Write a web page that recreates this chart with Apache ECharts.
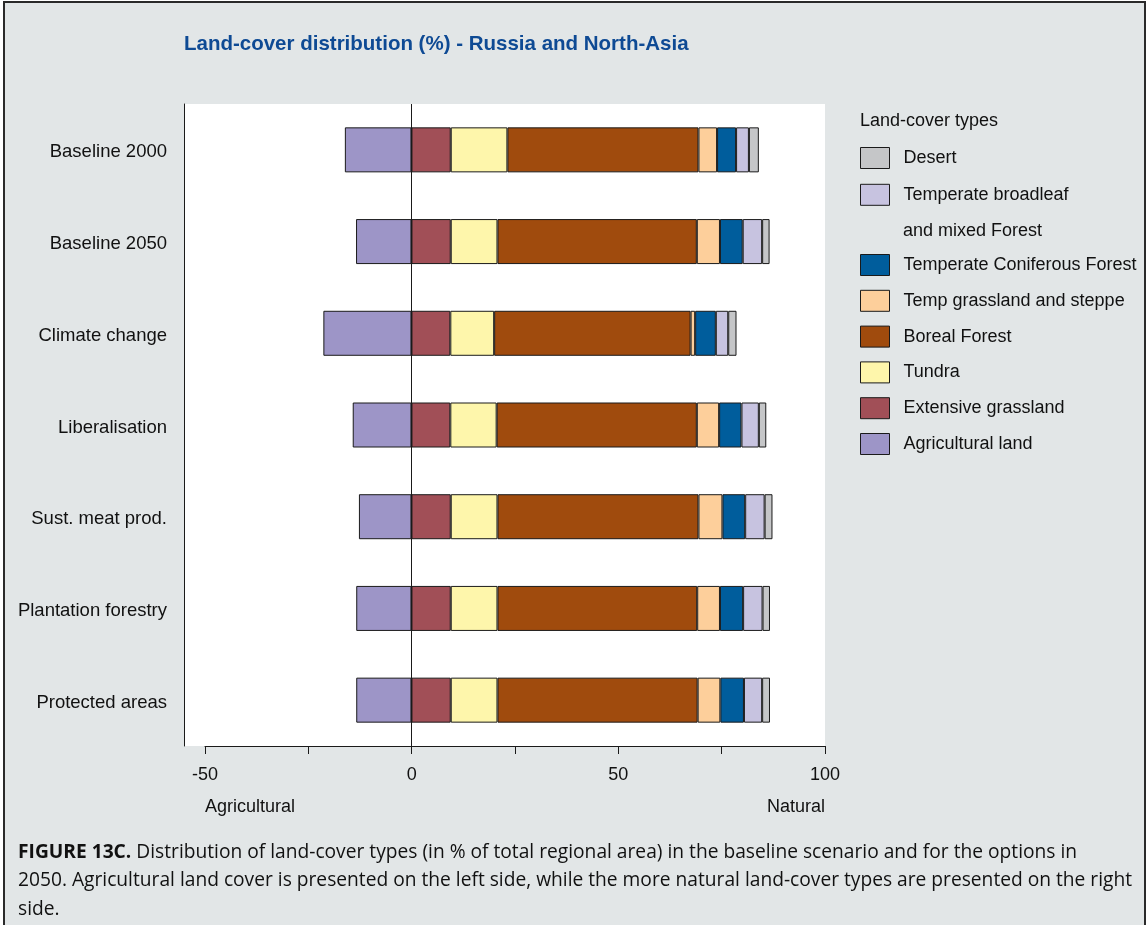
<!DOCTYPE html>
<html>
<head>
<meta charset="utf-8">
<script src="https://cdn.jsdelivr.net/npm/echarts@6/dist/echarts.min.js"></script>
<style>
  html, body { margin: 0; padding: 0; background: #ffffff; }
  #wrap { position: relative; width: 1147px; height: 925px; overflow: hidden; }
  #panel { position: absolute; left: 3px; top: 1px; width: 1139px; height: 940px;
           background: #e2e6e7; border: 2px solid #2a2a2a; }
  #chart { position: absolute; left: 0; top: 0; width: 1147px; height: 925px; }
</style>
</head>
<body>
<div id="wrap">
  <div id="panel"></div>
  <div id="chart"></div>
</div>
<script>
const categories = ['Baseline 2000', 'Baseline 2050', 'Climate change', 'Liberalisation',
                    'Sust. meat prod.', 'Plantation forestry', 'Protected areas'];
const agricultural = [-16.1, -13.4, -21.3, -14.2, -12.7, -13.35, -13.35];
const extensiveGrassland = [9.5, 9.5, 9.4, 9.4, 9.5, 9.5, 9.5];
const tundra = [13.7, 11.3, 10.6, 11.2, 11.3, 11.3, 11.3];
const borealForest = [46.2, 48.2, 47.5, 48.4, 48.6, 48.3, 48.4];
const tempGrassland = [4.5, 5.6, 1.1, 5.4, 5.8, 5.5, 5.5];
const coniferous = [4.6, 5.5, 5.0, 5.4, 5.5, 5.6, 5.7];
const broadleaf = [3.1, 4.7, 3.0, 4.2, 4.7, 4.7, 4.4];
const desert = [2.4, 1.8, 2.0, 1.8, 1.9, 1.8, 1.9];
const xTicks = [-50, -25, 0, 25, 50, 75, 100];

const names = {
  agri: 'Agricultural land', ext: 'Extensive grassland', tun: 'Tundra', bor: 'Boreal Forest',
  tg: 'Temp grassland and steppe', con: 'Temperate Coniferous Forest',
  bl: 'Temperate broadleaf and mixed Forest', des: 'Desert'
};
const colors = {
  agri: '#9d95c7', ext: '#a14f57', tun: '#fef6ab', bor: '#a04b0d',
  tg: '#fdcf9b', con: '#005d9c', bl: '#c7c3e0', des: '#c5c6c8'
};
const seriesDefs = [
  ['agri', agricultural], ['ext', extensiveGrassland], ['tun', tundra], ['bor', borealForest],
  ['tg', tempGrassland], ['con', coniferous], ['bl', broadleaf], ['des', desert]
];

const FONT = "'Liberation Sans', Arial, sans-serif";
const CAPTION = "'Open Sans', Lato, sans-serif";

const series = seriesDefs.map(([k, arr], i) => ({
  name: names[k],
  type: 'bar',
  stack: 'total',
  xAxisIndex: 0, yAxisIndex: 0,
  barWidth: 45,
  data: arr,
  itemStyle: { color: colors[k], borderColor: '#1a1a1a', borderWidth: 1 },
  emphasis: { disabled: true },
  markLine: i === 0 ? {
    silent: true, symbol: 'none', label: { show: false },
    lineStyle: { color: '#1a1a1a', width: 1, type: 'solid' },
    data: [{ xAxis: 0 }]
  } : undefined
}));

const chart = echarts.init(document.getElementById('chart'), null, { renderer: 'canvas' });
const legendCommon = {
  orient: 'vertical', left: 860, padding: 0, itemWidth: 29, itemHeight: 21, itemGap: 14.8,
  icon: 'rect', selectedMode: false,
  itemStyle: { borderColor: '#1a1a1a', borderWidth: 1 },
  textStyle: { fontFamily: FONT, fontSize: 18, lineHeight: 20, color: '#111', padding: [0, 0, 0, 9] },
  formatter: n => n === names.bl ? 'Temperate broadleaf' : n
};
chart.setOption({
  backgroundColor: 'transparent',
  animation: false,
  title: {
    text: 'Land-cover distribution (%) - Russia and North-Asia',
    left: 184, top: 34, padding: 0,
    textStyle: { fontFamily: FONT, fontWeight: 'bold', fontSize: 20.5, color: '#0e4a94' }
  },
  legend: [
    Object.assign({}, legendCommon, { top: 147, data: [names.des, names.bl] }),
    Object.assign({}, legendCommon, { top: 254, itemGap: 13.8, data: [names.con, names.tg, names.bor, names.tun, names.ext, names.agri] })
  ],
  grid: [
    { left: 184, right: 322, top: 104, bottom: 179, show: true, backgroundColor: '#ffffff', borderWidth: 0 },
    { left: 205, right: 322, top: 745, height: 1 }
  ],
  xAxis: [
    { type: 'value', gridIndex: 0, min: -55, max: 100, show: false },
    { type: 'value', gridIndex: 1, min: -50, max: 100, interval: 25, position: 'bottom',
      axisLine: { show: true, onZero: false, lineStyle: { color: '#1a1a1a', width: 1 } },
      axisTick: { show: true, length: 8, lineStyle: { color: '#1a1a1a' } },
      splitLine: { show: false },
      axisLabel: { fontFamily: FONT, fontSize: 18, color: '#111', margin: 20,
                   formatter: v => (v % 50 === 0 ? String(v) : '') }
    }
  ],
  yAxis: [
    { type: 'category', gridIndex: 0, data: categories, inverse: true,
      axisLine: { show: true, onZero: false, lineStyle: { color: '#1a1a1a', width: 1 } },
      axisTick: { show: false },
      axisLabel: { fontFamily: FONT, fontSize: 18.5, color: '#111', margin: 17,
                   verticalAlign: 'top', lineHeight: 5 } },
    { type: 'value', gridIndex: 1, show: false }
  ],
  series: series,
  graphic: [
    { type: 'text', left: 860, top: 112, silent: true,
      style: { text: 'Land-cover types', fontFamily: FONT, fontSize: 18, fill: '#111' } },
    { type: 'text', left: 903, top: 222, silent: true,
      style: { text: 'and mixed Forest', fontFamily: FONT, fontSize: 18, fill: '#111' } },
    { type: 'text', left: 205, top: 798, silent: true,
      style: { text: 'Agricultural', fontFamily: FONT, fontSize: 18, fill: '#111' } },
    { type: 'text', right: 322, top: 798, silent: true,
      style: { text: 'Natural', fontFamily: FONT, fontSize: 18, fill: '#111' } },
    { type: 'text', left: 18, top: 843, silent: true,
      style: {
        text: '{b|FIGURE 13C.}{r| Distribution of land-cover types (in % of total regional area) in the baseline scenario and for the options in}\n' +
              '{r|2050. Agricultural land cover is presented on the left side, while the more natural land-cover types are presented on the right}\n' +
              '{r|side.}',
        rich: {
          b: { fontFamily: CAPTION, fontWeight: 'bold', fontSize: 19.2, fill: '#111', lineHeight: 28.5 },
          r: { fontFamily: CAPTION, fontSize: 19.2, fill: '#111', lineHeight: 28.5 }
        }
      } }
  ]
});
</script>
</body>
</html>
